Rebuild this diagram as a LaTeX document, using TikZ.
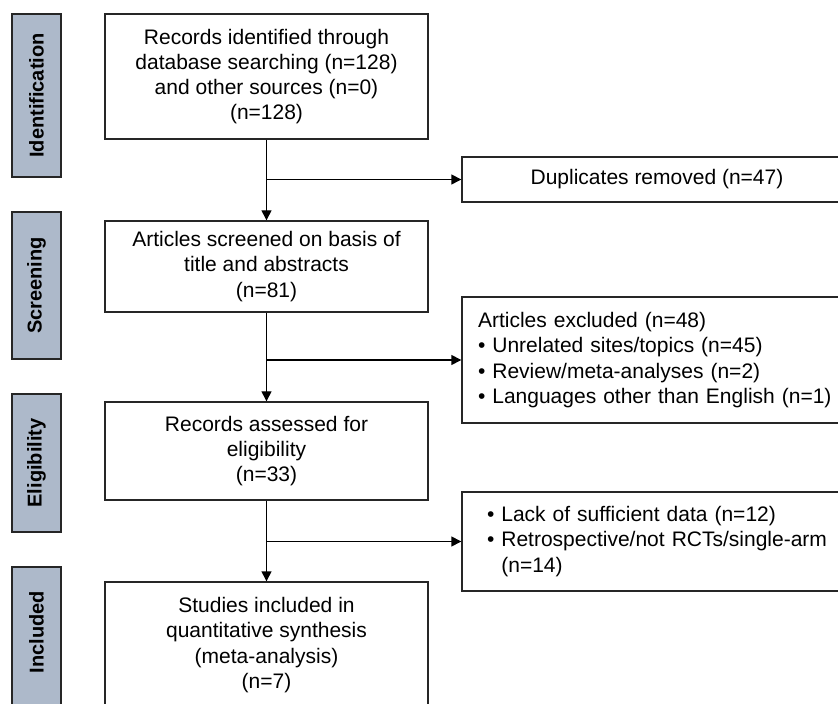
\documentclass[tikz,border=0pt]{standalone}
\usepackage{fontspec}
\setmainfont{Liberation Sans}
\usetikzlibrary{arrows.meta,positioning,calc}
\definecolor{stagegray}{RGB}{173,185,202}
\tikzset{
	>={Triangle[length=5pt,width=5pt]},
	x=0.5pt, y=-0.5pt,
	every node/.style={font=\fontsize{10.5pt}{12.6pt}\selectfont},
	%
	stage/.style={
		rectangle, rotate=90, minimum height=24.5pt, inner sep=0pt,
		line width=0.7pt, draw=black!85, fill=stagegray,
		font=\fontsize{10pt}{12pt}\selectfont\bfseries
	},
	%
	mainbox/.style={
		rectangle, minimum width=161.5pt, inner sep=2pt, align=center,
		line width=0.7pt, draw=black!85
	},
	%
	sidebox/.style={
		rectangle, minimum width=195pt, align=center,
		line width=0.7pt, draw=black!85
	},
	%
	listbox/.style={
		rectangle, align=left, inner ysep=2pt,
		line width=0.7pt, draw=black!85
	}
}

\begin{document}
\begin{tikzpicture}
    \useasboundingbox (0,0) rectangle (838,704);
    % stages
    \node(sid)[stage, minimum width=81.5pt] at (36.5,95.5){Identification};
    \node(sscr)[stage, minimum width=73.5pt] at (36.5,285.5){Screening};
    \node(selig)[stage, minimum width=69pt] at (36.5,463){Eligibility};
    \node(sinc)[stage, minimum width=75pt] at (36.5,642){\hspace*{10pt}Included};
    % main column
    \node(rec)[mainbox, minimum height=62.5pt] at (266.5,76.5){Records identified through\\database searching (n=128)\\and other sources (n=0)\\(n=128)};
    \node(art)[mainbox, minimum height=45.5pt] at (266.5,266.5){Articles screened on basis of\\title and abstracts\\(n=81)};
    \node(ass)[mainbox, minimum height=49pt] at (266.5,451){Records assessed for\\eligibility\\(n=33)};
    \node(stu)[mainbox, minimum height=63pt] at (266.5,645){Studies included in\\quantitative synthesis\\(meta-analysis)\\(n=7)};
    % excluded column
    \node(dup)[sidebox, minimum height=22.5pt] at (657,179.5){Duplicates removed (n=47)};
    \node(excl)[listbox, minimum height=63pt, inner xsep=8pt, text width=179pt] at (657,360){Articles excluded (n=48)\\\textbullet{} Unrelated sites/topics (n=45)\\\textbullet{} Review/meta-analyses (n=2)\\\textbullet{} Languages other than English (n=1)};
    \node(lack)[listbox, minimum height=49.5pt, inner xsep=12.5pt, text width=170pt] at (657,541.5){\textbullet{} Lack of sufficient data (n=12)\\\textbullet{} Retrospective/not RCTs/single-arm\\\phantom{\textbullet{} }(n=14)};
    % arrows
    \draw[->, line width=0.7pt] (rec) -- (art);
    \draw[->, line width=0.7pt] (art) -- (ass);
    \draw[->, line width=0.7pt] (ass) -- (stu);
    \draw[->, line width=0.7pt] (rec.south |- dup) -- (dup);
    \draw[->, line width=0.7pt] (art.south |- excl) -- (excl);
    \draw[->, line width=0.7pt] (ass.south |- lack) -- (lack);
\end{tikzpicture}
\end{document}
